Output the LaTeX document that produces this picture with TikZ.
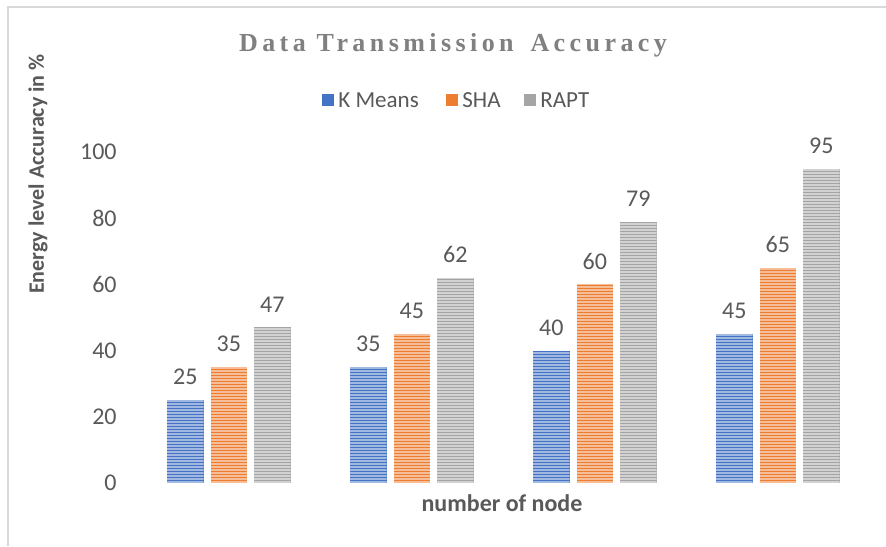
\documentclass[tikz,border=0pt]{standalone}
\usepackage{fontspec}
\setmainfont{Carlito}
\newfontfamily\titlefont[LetterSpace=17]{Liberation Serif}

\definecolor{framegray}{HTML}{D9D9D9}
\definecolor{titlegray}{HTML}{808080}
\definecolor{labelgray}{HTML}{595959}
\definecolor{kblue}{HTML}{4472C4}
\definecolor{sorange}{HTML}{ED7D31}
\definecolor{rgray}{HTML}{A5A5A5}

\tikzset{
  ticklabel/.style={anchor=east, text=labelgray, font=\fontsize{12}{14}\selectfont, inner sep=0pt},
  vlabel/.style={text=labelgray, font=\fontsize{12}{14}\selectfont, inner sep=0pt},
  legendtext/.style={anchor=west, text=labelgray, font=\fontsize{11.5}{14}\selectfont, inner sep=0pt},
  axistitle/.style={text=labelgray, font=\fontsize{12}{14}\selectfont\bfseries, inner sep=0pt},
  stripe/.style={white, opacity=.5, line width=0.55pt}
}

% one striped bar: #1 name, #2 left edge (px), #3 value, #4 colour
\newcommand{\databar}[4]{%
  \pgfmathsetmacro{\bartop}{483-3.31*#3}%
  \pgfmathsetmacro{\barmid}{#2+18.25}%
  \fill[#4] (#2,483) rectangle (#2+36.5,\bartop);
  \begin{scope}
    \clip (#2,483) rectangle (#2+36.5,\bartop);
    \foreach \s in {0,3,...,330} \draw[stripe] (#2,482-\s) -- ++(36.5,0);
  \end{scope}
  \node[vlabel] (#1) at (\barmid,\bartop-23) {#3};
}

\begin{document}
\begin{tikzpicture}[x=0.5pt,y=-0.5pt]
\useasboundingbox (0,0) rectangle (886,546);
\fill[white] (0,0) rectangle (886,546);

% chart frame
\draw[framegray, line width=1pt] (8,546) -- (8,7) -- (886,7);

% title
\node[text=titlegray, inner sep=0pt] (title) at (453,45)
  {\fontsize{13}{15}\selectfont\titlefont\bfseries Data Transmission\hspace{3pt} Accuracy};

% legend
\fill[kblue] (322,94) rectangle (334,106);
\node[legendtext] (lk) at (338,100) {K Means};
\fill[sorange] (446,94) rectangle (458,106);
\node[legendtext] (ls) at (462,100) {SHA};
\fill[rgray] (524,94) rectangle (536,106);
\node[legendtext] (lr) at (540,100) {RAPT};

% y axis tick labels
\foreach \v in {0,20,...,100}
  \node[ticklabel] (t\v) at (117,{483-3.31*\v}) {\v};

% axis titles
\node[axistitle, rotate=90, font=\fontsize{11}{13}\selectfont\bfseries] (ytitle) at (38,174) {Energy level Accuracy in \%};
\node[axistitle] (xtitle) at (502,503) {number of node};

% bars
\databar{b1}{167}{25}{kblue}
\databar{o1}{210.5}{35}{sorange}
\databar{g1}{254}{47}{rgray}
\databar{b2}{350}{35}{kblue}
\databar{o2}{393.5}{45}{sorange}
\databar{g2}{437}{62}{rgray}
\databar{b3}{533}{40}{kblue}
\databar{o3}{576.5}{60}{sorange}
\databar{g3}{620}{79}{rgray}
\databar{b4}{716}{45}{kblue}
\databar{o4}{759.5}{65}{sorange}
\databar{g4}{803}{95}{rgray}
\end{tikzpicture}
\end{document}
